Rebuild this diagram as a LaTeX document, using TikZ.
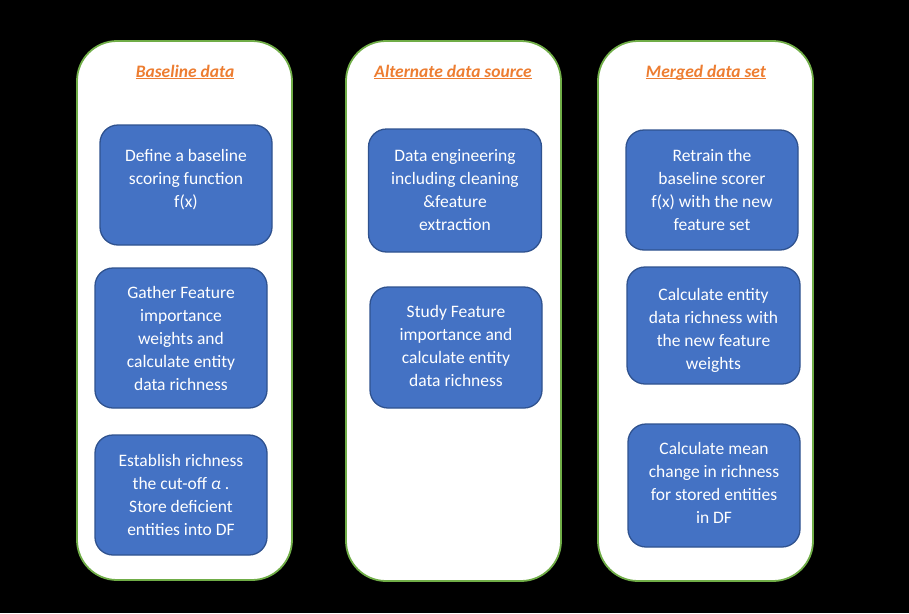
\documentclass[tikz,border=0pt]{standalone}
\usepackage{fontspec}
\setmainfont{Carlito}
\usepackage{tikz}
\definecolor{panelgreen}{HTML}{70AD47}
\definecolor{boxblue}{HTML}{4472C4}
\definecolor{boxedge}{HTML}{2F528F}
\definecolor{headorange}{HTML}{ED7D31}
\tikzset{
  panel/.style    = {shape=rectangle, rounded corners=40pt,
                     draw=panelgreen, line width=1.8pt, fill=white},
  stepbox/.style  = {shape=rectangle, rounded corners=18pt,
                     draw=boxedge, line width=1.3pt, fill=boxblue,
                     align=center, text=white, inner sep=0pt,
                     font=\fontsize{17.5}{23}\selectfont},
  head/.style     = {text=headorange, inner sep=0pt,
                     font=\fontsize{17.5}{20}\selectfont\bfseries\itshape}
}

\begin{document}
\begin{tikzpicture}
  [
  x=1pt, y=-1pt
  ]

  \fill[black] (0,0) rectangle (909,613);
  \useasboundingbox (0,0) rectangle (909,613);

  % three columns
  \draw[panel] (77,41) rectangle (292,580);
  \draw[panel] (346,41) rectangle (561,581);
  \draw[panel] (598,41) rectangle (813,581);

  \node[head, anchor=base] (baseline) at (185,77) {\underline{\smash{Baseline data}}};
  \node[head, anchor=base] (alternate) at (453,77) {\underline{\smash{Alternate data source}}};
  \node[head, anchor=base] (merged) at (706,77) {\underline{\smash{Merged data set}}};

  % baseline data
  \node[stepbox, minimum width=172pt, minimum height=120pt] (define) at (186,185)
    {Define a baseline\\ scoring function\\ f(x)\\[-9pt]};
  \node[stepbox, minimum width=172pt, minimum height=140pt] (gather) at (181,338)
    {Gather Feature\\ importance\\ weights and\\ calculate entity\\ data richness};
  \node[stepbox, minimum width=172pt, minimum height=120pt] (establish) at (181,495)
    {Establish richness\\ the cut-off {\itshape α} .\\ Store deficient\\ entities into DF};

  % alternate data source
  \node[stepbox, minimum width=173pt, minimum height=123pt] (engineer) at (455,190.5)
    {Data engineering\\ including cleaning\\ \&feature\\ extraction\\[-21pt]};
  \node[stepbox, minimum width=172pt, minimum height=121pt] (study) at (456,347.5)
    {Study Feature\\ importance and\\ calculate entity\\ data richness\\[-19pt]};

  % merged data set
  \node[stepbox, minimum width=172pt, minimum height=120pt] (retrain) at (712,190)
    {Retrain the\\ baseline scorer\\ f(x) with the new\\ feature set};
  \node[stepbox, minimum width=173pt, minimum height=117pt] (calcnew) at (713.5,325.5)
    {Calculate entity\\ data richness with\\ the new feature\\ weights\\[-29pt]};
  \node[stepbox, minimum width=172pt, minimum height=123pt] (calcmean) at (714,485.5)
    {Calculate mean\\ change in richness\\ for stored entities\\ in DF\\[-17pt]};

\end{tikzpicture}
\end{document}
